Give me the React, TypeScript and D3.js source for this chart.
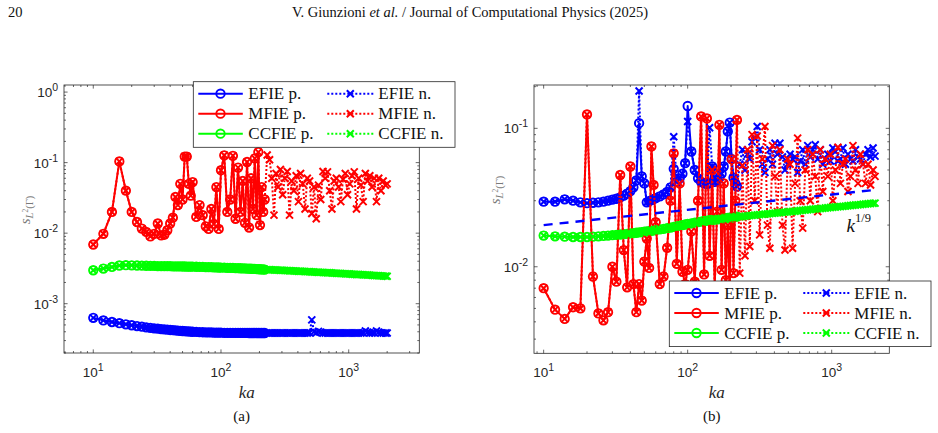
import React, { FC } from "react";
import * as d3 from "d3";

// ka samples of the "p." runs and of the far part of the "n." runs
const kaP = [
  10, 12, 14, 16, 18, 20, 22, 24, 26, 28, 30, 32, 34, 36, 38, 40, 42, 44, 46, 48,
  50, 52, 54, 56, 58, 60, 64, 68, 72, 76, 80, 84, 88, 92, 96, 100, 106, 112, 118,
  124, 130, 136, 142, 148, 154, 160, 166, 172, 178, 184, 190, 196, 202, 208, 214, 220,
];
const kaFar = [
  230, 240, 250, 260, 270, 280, 292, 304, 316, 330,
  344, 358, 372, 388, 404, 420, 437, 455, 474, 494,
  514, 535, 557, 580, 604, 629, 655, 682, 710, 739,
  769, 800, 833, 867, 903, 940, 979, 1019, 1061, 1105,
  1150, 1197, 1246, 1297, 1350, 1405, 1463, 1523, 1585, 1650,
  1718, 1788, 1862, 1938, 2000,
];

// ---- panel (a)
const efiePA = [
  6.3e-4, 5.8e-4, 5.5e-4, 5.3e-4, 5.1e-4, 4.95e-4, 4.82e-4, 4.72e-4, 4.63e-4, 4.55e-4,
  4.48e-4, 4.42e-4, 4.37e-4, 4.32e-4, 4.28e-4, 4.24e-4, 4.21e-4, 4.18e-4, 4.15e-4, 4.12e-4,
  4.1e-4, 4.08e-4, 4.06e-4, 4.04e-4, 4.02e-4, 4.0e-4, 3.98e-4, 3.96e-4, 3.94e-4, 3.93e-4,
  3.92e-4, 3.91e-4, 3.9e-4, 3.89e-4, 3.88e-4, 3.88e-4, 3.87e-4, 3.87e-4, 3.86e-4, 3.86e-4,
  3.86e-4, 3.85e-4, 3.85e-4, 3.85e-4, 3.85e-4, 3.85e-4, 3.84e-4, 3.84e-4, 3.84e-4, 3.84e-4,
  3.84e-4, 3.84e-4, 3.84e-4, 3.84e-4, 3.84e-4, 3.84e-4,
];
const mfiePA = [
  0.0069, 0.0098, 0.02, 0.104, 0.04, 0.02, 0.0144, 0.0116, 0.0104, 0.009,
  0.0098, 0.0137, 0.0093, 0.0095, 0.011, 0.0137, 0.0166, 0.0326, 0.025, 0.05,
  0.03, 0.122, 0.122, 0.05, 0.034, 0.053, 0.017, 0.025, 0.018, 0.0125,
  0.0115, 0.022, 0.0135, 0.045, 0.0115, 0.078, 0.127, 0.02, 0.03, 0.125,
  0.016, 0.085, 0.02, 0.055, 0.014, 0.102, 0.012, 0.06, 0.022, 0.115,
  0.018, 0.141, 0.013, 0.045, 0.02, 0.03,
];
const ccfiePA = [
  2.98e-3, 3.15e-3, 3.32e-3, 3.48e-3, 3.52e-3, 3.5e-3, 3.48e-3, 3.46e-3, 3.45e-3, 3.44e-3,
  3.43e-3, 3.42e-3, 3.41e-3, 3.41e-3, 3.4e-3, 3.4e-3, 3.39e-3, 3.39e-3, 3.38e-3, 3.38e-3,
  3.37e-3, 3.37e-3, 3.36e-3, 3.36e-3, 3.35e-3, 3.35e-3, 3.34e-3, 3.33e-3, 3.32e-3, 3.31e-3,
  3.3e-3, 3.29e-3, 3.28e-3, 3.27e-3, 3.26e-3, 3.25e-3, 3.24e-3, 3.23e-3, 3.22e-3, 3.21e-3,
  3.2e-3, 3.19e-3, 3.18e-3, 3.17e-3, 3.16e-3, 3.15e-3, 3.14e-3, 3.13e-3, 3.12e-3, 3.11e-3,
  3.1e-3, 3.09e-3, 3.08e-3, 3.07e-3, 3.06e-3, 3.05e-3,
];
const efieFarA = [
  3.84e-4, 3.85e-4, 3.84e-4, 3.85e-4, 3.84e-4, 3.85e-4, 3.84e-4, 3.85e-4, 3.84e-4, 3.85e-4,
  3.84e-4, 3.85e-4, 3.84e-4, 3.85e-4, 3.84e-4, 3.85e-4, 3.84e-4, 3.85e-4, 3.84e-4, 3.86e-4,
  5.9e-4, 4.0e-4, 3.88e-4, 4.05e-4, 3.95e-4, 3.85e-4, 3.84e-4, 3.85e-4, 3.84e-4, 3.85e-4,
  3.84e-4, 3.85e-4, 3.84e-4, 3.85e-4, 3.84e-4, 3.85e-4, 3.84e-4, 3.85e-4, 3.84e-4, 3.85e-4,
  3.84e-4, 3.85e-4, 3.84e-4, 3.86e-4, 4.1e-4, 3.95e-4, 3.85e-4, 3.84e-4, 3.86e-4, 4.1e-4,
  3.95e-4, 3.85e-4, 3.84e-4, 3.85e-4, 3.85e-4,
];
const mfieFarA = [
  0.128, 0.11, 0.06, 0.018, 0.07, 0.045, 0.08, 0.035, 0.06, 0.075,
  0.018, 0.055, 0.04, 0.065, 0.028, 0.07, 0.05, 0.022, 0.06, 0.055,
  0.019, 0.045, 0.016, 0.048, 0.03, 0.075, 0.06, 0.074, 0.04, 0.022,
  0.055, 0.06, 0.045, 0.028, 0.058, 0.07, 0.035, 0.05, 0.065, 0.074,
  0.022, 0.06, 0.048, 0.028, 0.07, 0.055, 0.065, 0.045, 0.06, 0.028,
  0.06, 0.04, 0.055, 0.048, 0.05,
];
const ccfieFarA = [
  3.04e-3, 3.03e-3, 3.02e-3, 3.01e-3, 3.0e-3, 2.99e-3, 2.98e-3, 2.97e-3, 2.96e-3, 2.95e-3,
  2.93e-3, 2.92e-3, 2.91e-3, 2.9e-3, 2.89e-3, 2.88e-3, 2.87e-3, 2.86e-3, 2.85e-3, 2.84e-3,
  2.82e-3, 2.81e-3, 2.8e-3, 2.79e-3, 2.78e-3, 2.77e-3, 2.76e-3, 2.75e-3, 2.74e-3, 2.72e-3,
  2.71e-3, 2.7e-3, 2.69e-3, 2.68e-3, 2.67e-3, 2.66e-3, 2.65e-3, 2.64e-3, 2.62e-3, 2.61e-3,
  2.6e-3, 2.59e-3, 2.58e-3, 2.57e-3, 2.56e-3, 2.55e-3, 2.54e-3, 2.52e-3, 2.51e-3, 2.5e-3,
  2.49e-3, 2.48e-3, 2.47e-3, 2.46e-3, 2.45e-3,
];

// ---- panel (b)
const efiePB = [
  0.0295, 0.0295, 0.0307, 0.03, 0.0292, 0.0288, 0.029, 0.0292, 0.0295, 0.03,
  0.0305, 0.031, 0.0317, 0.0326, 0.0338, 0.0352, 0.0375, 0.042, 0.109, 0.045,
  0.04, 0.0292, 0.0298, 0.0303, 0.0308, 0.0313, 0.0322, 0.0333, 0.0347, 0.0375,
  0.051, 0.041, 0.0435, 0.047, 0.056, 0.145, 0.068, 0.05, 0.0435, 0.041,
  0.04, 0.0395, 0.04, 0.053, 0.041, 0.042, 0.044, 0.047, 0.053, 0.068,
  0.095, 0.11, 0.06, 0.044, 0.04, 0.038,
];
const mfiePB = [
  0.007, 0.0049, 0.0042, 0.0051, 0.005, 0.126, 0.0085, 0.0046, 0.0041, 0.0047,
  0.01, 0.0078, 0.046, 0.0132, 0.0071, 0.053, 0.0075, 0.0047, 0.0075, 0.0057,
  0.0109, 0.016, 0.0098, 0.074, 0.039, 0.021, 0.0075, 0.0085, 0.0137, 0.03,
  0.066, 0.0105, 0.04, 0.0092, 0.0075, 0.0095, 0.018, 0.0078, 0.03, 0.122,
  0.0088, 0.118, 0.012, 0.05, 0.007, 0.025, 0.106, 0.0095, 0.04, 0.008,
  0.02, 0.0065, 0.06, 0.009, 0.03, 0.115,
];
const ccfiePB = [
  0.0168, 0.0166, 0.0165, 0.0164, 0.0164, 0.0164, 0.0165, 0.0166, 0.0167, 0.0168,
  0.0169, 0.017, 0.0171, 0.0172, 0.0173, 0.0174, 0.0175, 0.0176, 0.0177, 0.0178,
  0.0179, 0.018, 0.0181, 0.0182, 0.0183, 0.0184, 0.0186, 0.0188, 0.019, 0.0192,
  0.0194, 0.0196, 0.0198, 0.02, 0.0202, 0.0204, 0.0206, 0.0208, 0.021, 0.0212,
  0.0214, 0.0215, 0.0217, 0.0218, 0.0219, 0.022, 0.0221, 0.0222, 0.0223, 0.0224,
  0.0225, 0.0226, 0.0227, 0.0228, 0.0229, 0.023,
];
const efieFarB = [
  0.055, 0.07, 0.05, 0.065, 0.06, 0.08, 0.085, 0.103, 0.07, 0.055,
  0.048, 0.06, 0.07, 0.055, 0.078, 0.065, 0.078, 0.062, 0.05, 0.055,
  0.065, 0.06, 0.062, 0.048, 0.058, 0.07, 0.055, 0.075, 0.062, 0.07,
  0.076, 0.06, 0.07, 0.055, 0.06, 0.065, 0.058, 0.072, 0.068, 0.058,
  0.06, 0.072, 0.055, 0.065, 0.06, 0.058, 0.07, 0.062, 0.06, 0.055,
  0.065, 0.07, 0.062, 0.072, 0.063,
];
const mfieFarB = [
  0.009, 0.054, 0.012, 0.07, 0.014, 0.09, 0.03, 0.088, 0.017, 0.06,
  0.103, 0.02, 0.0136, 0.075, 0.045, 0.025, 0.07, 0.02, 0.0132, 0.06,
  0.055, 0.0136, 0.04, 0.085, 0.03, 0.019, 0.05, 0.07, 0.03, 0.065,
  0.045, 0.025, 0.07, 0.035, 0.06, 0.045, 0.065, 0.03, 0.05, 0.073,
  0.04, 0.055, 0.06, 0.035, 0.045, 0.075, 0.05, 0.04, 0.065, 0.055,
  0.04, 0.055, 0.039, 0.05, 0.045,
];
const ccfieFarB = [
  0.023, 0.0231, 0.0232, 0.0233, 0.0234, 0.0235, 0.0236, 0.0237, 0.0238, 0.0239,
  0.024, 0.0241, 0.0242, 0.0243, 0.0244, 0.0245, 0.0246, 0.0247, 0.0248, 0.0249,
  0.025, 0.0251, 0.0252, 0.0253, 0.0255, 0.0256, 0.0257, 0.0258, 0.0259, 0.026,
  0.0261, 0.0262, 0.0263, 0.0264, 0.0266, 0.0267, 0.0268, 0.0269, 0.027, 0.0271,
  0.0272, 0.0273, 0.0274, 0.0276, 0.0277, 0.0278, 0.0279, 0.028, 0.0281, 0.0283,
  0.0284, 0.0285, 0.0286, 0.0287, 0.0288,
];
// where the "n." run leaves the "p." run inside the low ka range: [ka, value]
const efieOverB: [number, number][] = [
  [46, 0.186],
  [80, 0.087],
  [100, 0.112],
  [142, 0.101],
];
// k^(1/9) guide line in (b)
const refKa = [10, 2000];
const refVal = [0.02, 0.0359];

const legendNames = [
  ["EFIE p.", "EFIE n."],
  ["MFIE p.", "MFIE n."],
  ["CCFIE p.", "CCFIE n."],
];

const BLUE = "#0000ff";
const RED = "#ff0000";
const GREEN = "#00ff00";
const AX = "#262626";
const SANS = "'Liberation Sans', Arial, Helvetica, sans-serif";
const SERIF = "'Liberation Serif', 'Times New Roman', serif";

interface Series {
  ka: number[];
  v: number[];
  color: string;
  kind: "p" | "n";
}

function pSeries(v: number[], color: string): Series {
  return { ka: kaP, v, color, kind: "p" };
}

function nSeries(
  p: number[],
  far: number[],
  color: string,
  over: [number, number][] = []
): Series {
  const m = new Map(over);
  const low = kaP.map((k, i) => m.get(k) ?? p[i]);
  return { ka: [...kaP, ...kaFar], v: [...low, ...far], color, kind: "n" };
}

const seriesA: Series[] = [
  pSeries(efiePA, BLUE),
  pSeries(mfiePA, RED),
  pSeries(ccfiePA, GREEN),
  nSeries(efiePA, efieFarA, BLUE),
  nSeries(mfiePA, mfieFarA, RED),
  nSeries(ccfiePA, ccfieFarA, GREEN),
];

const seriesB: Series[] = [
  pSeries(efiePB, BLUE),
  pSeries(mfiePB, RED),
  pSeries(ccfiePB, GREEN),
  nSeries(efiePB, efieFarB, BLUE, efieOverB),
  nSeries(mfiePB, mfieFarB, RED),
  nSeries(ccfiePB, ccfieFarB, GREEN),
];

const CROSS = "M-3.5,-3.5L3.5,3.5M-3.5,3.5L3.5,-3.5";

const Marker: FC<{ kind: "p" | "n"; x: number; y: number; color: string }> = ({
  kind,
  x,
  y,
  color,
}) =>
  kind === "p" ? (
    <circle cx={x} cy={y} r={4.2} fill="none" stroke={color} strokeWidth={1.9} />
  ) : (
    <path d={CROSS} transform={`translate(${x},${y})`} stroke={color} strokeWidth={2} fill="none" />
  );

interface Box {
  x0: number;
  x1: number;
  y0: number;
  y1: number;
}

function logTicks(domain: [number, number]) {
  const lo = Math.floor(Math.log10(domain[0]));
  const hi = Math.ceil(Math.log10(domain[1]));
  const major: number[] = [];
  const minor: number[] = [];
  for (let e = lo; e <= hi; e++) {
    const base = Math.pow(10, e);
    if (base >= domain[0] && base <= domain[1]) major.push(e);
    for (let m = 2; m <= 9; m++) {
      const t = m * base;
      if (t >= domain[0] && t <= domain[1]) minor.push(t);
    }
  }
  return { major, minor };
}

interface PanelProps {
  id: string;
  box: Box;
  xDomain: [number, number];
  yDomain: [number, number];
  series: Series[];
  legend: { x: number; y: number };
  ylabel: { x: number; y: number };
  caption: string;
  withRef?: boolean;
}

const Panel: FC<PanelProps> = ({
  id,
  box,
  xDomain,
  yDomain,
  series,
  legend,
  ylabel,
  caption,
  withRef,
}) => {
  const x = d3.scaleLog().domain(xDomain).range([box.x0, box.x1]);
  const y = d3.scaleLog().domain(yDomain).range([box.y1, box.y0]);
  const line = d3
    .line<[number, number]>()
    .x((d) => x(d[0]))
    .y((d) => y(d[1]));

  const xt = logTicks(xDomain);
  const yt = logTicks(yDomain);
  const cx = (box.x0 + box.x1) / 2;
  const MAJ = 3.6;
  const MIN = 2;

  return (
    <g>
      <defs>
        <clipPath id={`clip-${id}`}>
          <rect x={box.x0} y={box.y0} width={box.x1 - box.x0} height={box.y1 - box.y0} />
        </clipPath>
      </defs>
      <rect x={box.x0} y={box.y0} width={box.x1 - box.x0} height={box.y1 - box.y0} fill="white" />

      <g clipPath={`url(#clip-${id})`}>
        {series.map((s, i) => {
          const pts = s.ka.map((k, j) => [k, s.v[j]] as [number, number]);
          return (
            <g key={i}>
              <path
                d={line(pts) ?? ""}
                fill="none"
                stroke={s.color}
                strokeWidth={2}
                strokeDasharray={s.kind === "n" ? "2 2" : undefined}
                strokeLinejoin="round"
              />
              {pts.map((d, j) => (
                <Marker key={j} kind={s.kind} x={x(d[0])} y={y(d[1])} color={s.color} />
              ))}
            </g>
          );
        })}
        {withRef && (
          <path
            d={line(refKa.map((k, i) => [k, refVal[i]] as [number, number])) ?? ""}
            fill="none"
            stroke={BLUE}
            strokeWidth={2.4}
            strokeDasharray="9 7"
          />
        )}
      </g>

      {/* box and ticks */}
      <rect
        x={box.x0}
        y={box.y0}
        width={box.x1 - box.x0}
        height={box.y1 - box.y0}
        fill="none"
        stroke={AX}
        strokeWidth={0.8}
      />
      <g stroke={AX} strokeWidth={0.7}>
        {xt.major.map((e) => {
          const px = x(Math.pow(10, e));
          return (
            <g key={`xM${e}`}>
              <line x1={px} x2={px} y1={box.y1} y2={box.y1 - MAJ} />
              <line x1={px} x2={px} y1={box.y0} y2={box.y0 + MAJ} />
            </g>
          );
        })}
        {xt.minor.map((t) => (
          <g key={`xm${t}`}>
            <line x1={x(t)} x2={x(t)} y1={box.y1} y2={box.y1 - MIN} />
            <line x1={x(t)} x2={x(t)} y1={box.y0} y2={box.y0 + MIN} />
          </g>
        ))}
        {yt.major.map((e) => {
          const py = y(Math.pow(10, e));
          return (
            <g key={`yM${e}`}>
              <line x1={box.x0} x2={box.x0 + MAJ} y1={py} y2={py} />
              <line x1={box.x1} x2={box.x1 - MAJ} y1={py} y2={py} />
            </g>
          );
        })}
        {yt.minor.map((t) => (
          <g key={`ym${t}`}>
            <line x1={box.x0} x2={box.x0 + MIN} y1={y(t)} y2={y(t)} />
            <line x1={box.x1} x2={box.x1 - MIN} y1={y(t)} y2={y(t)} />
          </g>
        ))}
      </g>

      {/* tick labels */}
      <g fontFamily={SANS} fill={AX} fontSize={13.5}>
        {xt.major.map((e) => (
          <text key={`xl${e}`} x={x(Math.pow(10, e))} y={376.5} textAnchor="middle">
            10
            <tspan dy={-6} fontSize={10.5}>
              {e}
            </tspan>
          </text>
        ))}
        {yt.major.map((e) => (
          <text key={`yl${e}`} x={box.x0 - 6} y={y(Math.pow(10, e)) + 5} textAnchor="end">
            10
            <tspan dy={-6} fontSize={10.5}>
              {e}
            </tspan>
          </text>
        ))}
      </g>

      {/* axis labels */}
      <text x={cx + 5} y={398} textAnchor="middle" fontFamily={SERIF} fontStyle="italic" fontSize={17} fill={AX}>
        ka
      </text>
      <text
        transform={`translate(${ylabel.x},${ylabel.y}) rotate(-90)`}
        textAnchor="middle"
        fontFamily={SERIF}
        fontStyle="italic"
        fontSize={15}
        fill="#7a7a7a"
      >
        s
        <tspan dy={3} fontSize={10.5}>
          L
        </tspan>
        <tspan dy={-5} fontSize={7.5} fontStyle="normal">
          2
        </tspan>
        <tspan dy={5} fontSize={10.5} fontStyle="normal">
          (Γ)
        </tspan>
      </text>
      <text x={cx} y={421} textAnchor="middle" fontFamily={SERIF} fontSize={15} fill="#111">
        {caption}
      </text>

      {/* legend */}
      <g transform={`translate(${legend.x},${legend.y})`}>
        <rect x={0} y={0} width={261.7} height={65.6} fill="white" stroke={AX} strokeWidth={0.8} />
        {legendNames.map((names, i) => {
          const ry = 12 + i * 20;
          const color = [BLUE, RED, GREEN][i];
          return (
            <g key={i}>
              <line x1={5} x2={49.5} y1={ry} y2={ry} stroke={color} strokeWidth={2} />
              <Marker kind="p" x={27.2} y={ry} color={color} />
              <text x={55} y={ry + 5.5} fontFamily={SERIF} fontSize={17} fill="#111">
                {names[0]}
              </text>
              <line x1={134} x2={180} y1={ry} y2={ry} stroke={color} strokeWidth={2} strokeDasharray="2 2" />
              <Marker kind="n" x={157} y={ry} color={color} />
              <text x={185} y={ry + 5.5} fontFamily={SERIF} fontSize={17} fill="#111">
                {names[1]}
              </text>
            </g>
          );
        })}
      </g>
    </g>
  );
};

const App: FC = () => {
  return (
    <svg
      width={938}
      height={433}
      viewBox="0 0 938 433"
      style={{ position: "absolute", left: 0, top: 0, background: "white" }}
    >
      <rect x={0} y={0} width={938} height={433} fill="white" />
      <text x={8} y={17} fontFamily={SERIF} fontSize={14.5} fill="#111">
        20
      </text>
      <text x={470} y={17} textAnchor="middle" fontFamily={SERIF} fontSize={14.5} fill="#111">
        V. Giunzioni <tspan fontStyle="italic">et al.</tspan> / Journal of Computational Physics (2025)
      </text>

      <Panel
        id="a"
        box={{ x0: 64, x1: 419.3, y0: 85, y1: 353 }}
        xDomain={[5.9, 3570]}
        yDomain={[2.0e-4, 1.26]}
        series={seriesA}
        legend={{ x: 193.3, y: 81.7 }}
        ylabel={{ x: 30, y: 210 }}
        caption="(a)"
      />
      <Panel
        id="b"
        box={{ x0: 534, x1: 889.3, y0: 85, y1: 353.3 }}
        xDomain={[8.57, 2512]}
        yDomain={[0.00237, 0.2056]}
        series={seriesB}
        legend={{ x: 669.3, y: 281 }}
        ylabel={{ x: 500, y: 190 }}
        caption="(b)"
        withRef
      />
      <text x={846.5} y={232} fontFamily={SERIF} fontStyle="italic" fontSize={19} fill="#111">
        k
        <tspan dy={-10} fontSize={12.5} fontStyle="normal">
          1/9
        </tspan>
      </text>
    </svg>
  );
};

export default App;
